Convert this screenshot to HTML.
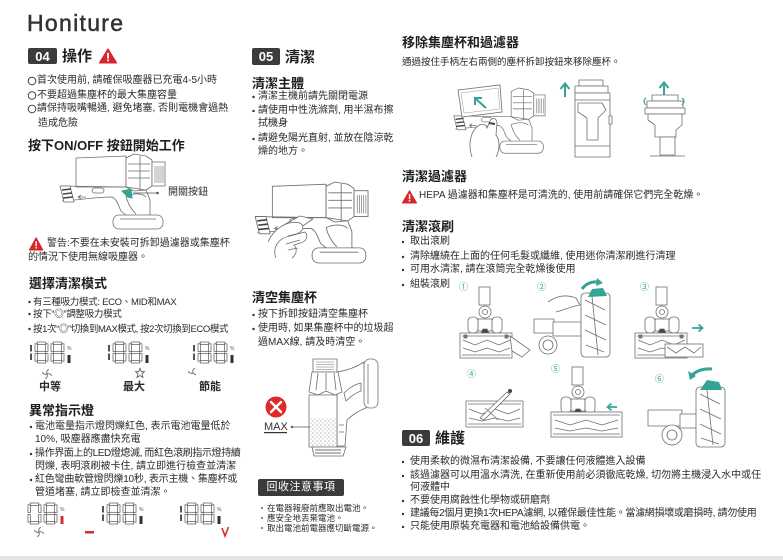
<!DOCTYPE html>
<html><head><meta charset="utf-8">
<style>
body{margin:0;}
#p{position:relative;width:783px;height:560px;overflow:hidden;background:#fff;font-family:"Liberation Sans","Noto Sans CJK TC",sans-serif;color:#2a2a2a;}
.t{position:absolute;white-space:nowrap;line-height:1;}
.s{font-size:10px;}
.m{font-size:9.5px;}
.h{font-size:13px;font-weight:bold;color:#1f1f1f;}
.x{font-size:15px;font-weight:bold;color:#1f1f1f;}
.b{position:absolute;background:#3b3b3b;color:#fff;font-weight:bold;font-size:13px;display:flex;align-items:center;justify-content:center;border-radius:2px;line-height:1;}
.n{font-size:9px;color:#35a396;}
</style></head><body><div id="p">
<svg width="783" height="560" style="position:absolute;left:0;top:0" xmlns="http://www.w3.org/2000/svg">
<defs>
<pattern id="dots" width="4" height="4" patternUnits="userSpaceOnUse"><circle cx="1" cy="1" r="0.55" fill="#666"/><circle cx="3" cy="3" r="0.45" fill="#888"/></pattern>
<g id="seg8" fill="none" stroke="#555" stroke-width="0.7">
 <rect x="2.2" y="0" width="8.6" height="2.4"/>
 <rect x="2.2" y="9.3" width="8.6" height="2.4"/>
 <rect x="2.2" y="18.6" width="8.6" height="2.4"/>
 <rect x="0" y="1.8" width="2.4" height="7.6"/>
 <rect x="10.6" y="1.8" width="2.4" height="7.6"/>
 <rect x="0" y="11.5" width="2.4" height="7.6"/>
 <rect x="10.6" y="11.5" width="2.4" height="7.6"/>
</g>
<g id="seg0" fill="none" stroke="#555" stroke-width="0.7">
 <rect x="2.2" y="0" width="8.6" height="2.4"/>
 <rect x="2.2" y="18.6" width="8.6" height="2.4"/>
 <rect x="0" y="1.8" width="2.4" height="7.6"/>
 <rect x="10.6" y="1.8" width="2.4" height="7.6"/>
 <rect x="0" y="11.5" width="2.4" height="7.6"/>
 <rect x="10.6" y="11.5" width="2.4" height="7.6"/>
</g>
<g id="seg1" fill="#555"><rect x="0" y="3" width="2" height="6.5"/><rect x="0" y="11.5" width="2" height="6.5"/></g>
<g id="disp"><use href="#seg1"/><use href="#seg8" x="5"/><use href="#seg8" x="21"/></g>
<g id="fan" fill="none" stroke="#555" stroke-width="0.8"><path d="M0 0 Q-1 -4 2 -4.5"/><path d="M0 0 Q4 -1 4.5 2"/><path d="M0 0 Q1 4 -2 4.5"/><path d="M0 0 Q-4 1 -4.5 -2"/></g>
<g id="vacbody" fill="none" stroke="#6e6e6e" stroke-width="0.8" stroke-linejoin="round">
 <path d="M126 158 L134 154 L146 156 L152 160 L152 186 L146 190 L134 191 L126 187 Z" fill="#fff"/>
 <path d="M128 164 L150 164 M128 171 L150 171 M128 178 L150 178 M140 156 L140 190"/>
 <rect x="152" y="162" width="13" height="24" fill="#fff"/>
 <path d="M155 166 V183 M157 166 V183 M159 166 V183 M161 166 V183 M163 166 V183" stroke-width="0.6"/>
 <path d="M60 186 L126 187 L146 190 L150 200 L150 215"/>
 <path d="M62 201 C80 200 96 197 112 197 C117 199 118 205 121 211 L126 215"/>
 <path d="M60 186 L70 186 L74 202 L64 202 Z" fill="#fff"/>
 <path d="M62 190 L71 189 M63 194 L72 193 M63 198 L73 197" stroke="#444" stroke-width="1.6"/>
 <rect x="92" y="188" width="12" height="5" rx="2.5"/>
 <path d="M78 197 L86 197 M78 197 L81 195 M78 197 L81 199"/>
 <path d="M126 196 C128 205 132 210 136 214"/>
 <path d="M126 196 C134 193 142 193 146 197"/>
 <rect x="113" y="215" width="50" height="14" rx="6" fill="#fff"/>
 <path d="M120 219 L156 219"/>
</g>
<g id="fbtop" fill="#fff" stroke="#6e6e6e" stroke-width="0.8">
 <rect x="21" y="1" width="11" height="18"/>
 <rect x="20" y="33" width="14" height="12"/>
 <circle cx="27" cy="26" r="6"/>
 <circle cx="27" cy="26" r="2.5"/>
 <rect x="10" y="31" width="10" height="16" rx="4"/>
 <rect x="34" y="31" width="10" height="16" rx="4"/>
 <path d="M23 47 L25 43 L29 43 L31 47 Z" fill="#444"/>
</g>
<g id="fbhouse" fill="#fff" stroke="#6e6e6e" stroke-width="0.8">
 <rect x="0" y="47" width="52" height="25"/>
 <path d="M2 50 L50 50 M2 69 L50 69" fill="none"/>
 <path d="M3 54 L15 59 L27 54 L39 59 L50 54 M3 62 L15 66 L27 62 L39 66 L50 62" fill="none"/>
 <rect x="4" y="49" width="3" height="3" fill="#777"/>
 <rect x="45" y="49" width="3" height="3" fill="#777"/>
</g>
<g id="warn"><path d="M7.5 0.8 L14.6 13 L0.4 13 Z" fill="#d7262d" stroke="#d7262d" stroke-linejoin="round"/><rect x="6.8" y="4.2" width="1.5" height="5" fill="#fff"/><rect x="6.8" y="10" width="1.5" height="1.5" fill="#fff"/></g>
</defs>

<rect x="0" y="556" width="783" height="4" fill="#e3e3e3"/>

<use href="#warn" transform="translate(99,48) scale(1.2,1.15)"/>
<g fill="none" stroke="#333" stroke-width="0.9">
<circle cx="32" cy="81" r="3.8"/><circle cx="32" cy="95.5" r="3.8"/><circle cx="32" cy="109" r="3.8"/>
</g>

<path d="M76 158 L126 156 L126 187 L76 187 Z" fill="#fff" stroke="#6e6e6e" stroke-width="0.8"/>
<use href="#vacbody"/>
<path d="M122 191 L131 189 L132 198 L128 197 Z" fill="#35a396" stroke="#35a396"/>
<path d="M133 193 L157 193" stroke="#555" stroke-width="0.8"/><circle cx="157.5" cy="193" r="1.3" fill="#555"/>

<use href="#warn" transform="translate(29,237) scale(0.95,1)"/>

<g fill="#333"><circle cx="29.5" cy="302" r="1.2"/><circle cx="29.5" cy="314" r="1.2"/><circle cx="29.5" cy="329" r="1.2"/></g>

<use href="#disp" x="30" y="342"/><use href="#disp" x="108" y="342"/><use href="#disp" x="193" y="342"/>
<g fill="#333"><rect x="67.5" y="355" width="3" height="8"/><rect x="145.5" y="355" width="3" height="8"/><rect x="230.5" y="355" width="3" height="8"/></g>
<g font-size="5" fill="#555" font-family="Liberation Sans, sans-serif"><text x="67" y="350">%</text><text x="145" y="350">%</text><text x="230" y="350">%</text></g>
<use href="#fan" x="47" y="374"/>
<g transform="translate(140,373)" fill="none" stroke="#555" stroke-width="0.8"><path d="M0 -4.5 L1.3 -1.3 L4.5 -1.3 L2 1 L3 4.5 L0 2.5 L-3 4.5 L-2 1 L-4.5 -1.3 L-1.3 -1.3 Z"/></g>
<g transform="translate(193,373)" fill="none" stroke="#555" stroke-width="0.8"><path d="M0 0 Q-1 -4 2 -4.5"/><path d="M0 0 Q-4 1 -4.5 -2"/><path d="M0 0 L3 2"/></g>

<g fill="#333"><circle cx="31" cy="427" r="1.2"/><circle cx="31" cy="454" r="1.2"/><circle cx="31" cy="480" r="1.2"/></g>
<use href="#seg0" x="28" y="503"/><use href="#seg8" x="44" y="503"/>
<use href="#disp" x="102" y="503"/><use href="#disp" x="180" y="503"/>
<rect x="60.5" y="516" width="3" height="8" fill="#d32f2f"/>
<g fill="#333"><rect x="139.5" y="516" width="3" height="8"/><rect x="217.5" y="516" width="3" height="8"/></g>
<g font-size="5" fill="#555" font-family="Liberation Sans, sans-serif"><text x="60" y="511">%</text><text x="139" y="511">%</text><text x="217" y="511">%</text></g>
<use href="#fan" x="39" y="532"/>
<rect x="85" y="531" width="9" height="2.5" fill="#d32f2f"/>
<path d="M222 528 L225 536 L228.5 527" fill="none" stroke="#d32f2f" stroke-width="1.6"/>

<g fill="#333"><circle cx="253.5" cy="97" r="1.2"/><circle cx="253.5" cy="111" r="1.2"/><circle cx="253.5" cy="139" r="1.2"/><circle cx="253.5" cy="315" r="1.2"/><circle cx="253.5" cy="329" r="1.2"/>
<circle cx="262" cy="508" r="0.9"/><circle cx="262" cy="518" r="0.9"/><circle cx="262" cy="528" r="0.9"/></g>

<g transform="translate(253,182) scale(1.075,1.08) translate(-58,-154)">
<path d="M76 158 L126 156 L126 187 L76 187 Z" fill="#fff" stroke="#6e6e6e" stroke-width="0.8"/>
<use href="#vacbody"/>
</g>
<g fill="#fff" stroke="#6e6e6e" stroke-width="0.8" stroke-linejoin="round">
<path d="M282 226 L300 216 L313 219 L298 229 Z"/>
<path d="M268 242 C274 228 288 220 300 223 C305 226 303 232 296 234 L288 236"/>
<path d="M276 258 C272 248 278 238 290 236 L305 232 C309 236 306 242 300 243 L294 245 C298 250 296 255 292 258"/>
<path d="M286 244 L300 240 M288 250 L298 248"/>
</g>

<g fill="#fff" stroke="#6e6e6e" stroke-width="0.8" stroke-linejoin="round">
<path d="M337 372 C350 370 358 366 364 362 L366 408 C360 410 352 415 347 420 L345 446 L337 446 Z"/>
<rect x="364" y="359" width="14" height="49" rx="6"/>
<path d="M368 364 V404" fill="none"/>
<path d="M344 393 C350 387 356 384 361 383 L361 391 C355 393 350 397 346 401 Z"/>
<path d="M339 425 L344 425 M339 432 L344 432" fill="none"/>
<rect x="313" y="359" width="24" height="13"/>
<path d="M316 362 H334 M316 364.5 H334 M316 367 H334 M316 369.5 H334" stroke-width="0.5" fill="none"/>
<path d="M312 372 L338 372 L342 392 L335 395 L326 391 L318 395 L309 392 Z"/>
<path d="M318 373 L316 390 M326 373 L326 390 M334 373 L336 390" fill="none"/>
<rect x="309" y="395" width="28" height="52"/>
<rect x="310" y="418" width="26" height="28" fill="url(#dots)" stroke="none"/>
<path d="M312 447 L346 447 L343 456 L314 456 Z"/>
<path d="M315 450 L341 450 M315 453 L341 453" stroke="#444" fill="none"/>
</g>
<path d="M292 427 L310 427" stroke="#555" stroke-width="0.8"/><circle cx="292" cy="427" r="1.2" fill="#555"/>
<circle cx="276" cy="407" r="10.5" fill="#e02b2b"/>
<path d="M271 402 L281 412 M281 402 L271 412" stroke="#fff" stroke-width="2.4" stroke-linecap="round"/>
<rect x="264" y="432" width="23" height="1.2" fill="#333"/>

<g transform="translate(452,88) scale(0.87) translate(-58,-154)"><use href="#vacbody"/></g>
<path d="M458 90 L500 85 L502 112 L462 117 Z" fill="#fff" stroke="#6e6e6e" stroke-width="0.8"/>
<path d="M461 93 L498 88 L500 109 L464 113 Z" fill="none" stroke="#999" stroke-width="0.5"/>
<path d="M486 108 L476 99 M475 105 L475 98 L482 98" fill="none" stroke="#35a396" stroke-width="2"/>
<path d="M472 157 C468 145 470 132 478 126 C482 123 486 124 487 128 L490 121 C492 117 497 118 497 123 L496 135 C500 140 500 150 496 157" fill="#fff" stroke="#6e6e6e" stroke-width="0.8"/>
<path d="M489 123 L495 124" stroke="#444" stroke-width="2"/>

<g fill="#fff" stroke="#6e6e6e" stroke-width="0.8" stroke-linejoin="round">
<rect x="579" y="80" width="24" height="6"/>
<rect x="575" y="86" width="33" height="7"/>
<rect x="575" y="93" width="35" height="64"/>
<path d="M575 100 L610 100 M575 146 L610 146" fill="none"/>
<path d="M578 103 L602 103 L606 110 L598 118 L598 140 L587 140 L587 118 L578 112 Z"/>
<rect x="609" y="116" width="3" height="8"/>
</g>
<path d="M565 97 V84 M560.5 89 L565 83.5 L569.5 89" fill="none" stroke="#35a396" stroke-width="2"/>

<g fill="#fff" stroke="#6e6e6e" stroke-width="0.8" stroke-linejoin="round">
<rect x="652" y="95" width="26" height="6"/>
<rect x="647" y="101" width="36" height="7"/>
<rect x="645" y="108" width="40" height="6"/>
<path d="M648 114 L682 114 L682 125 L676 130 L676 137 L655 137 L655 125 L648 120 Z"/>
<rect x="660" y="137" width="15" height="18"/>
<path d="M650 156 H685" fill="none"/>
</g>
<path d="M664 95 V83 M659.5 88 L664 82.5 L668.5 88" fill="none" stroke="#35a396" stroke-width="2"/>
<path d="M646 98 Q642 101 646 105 M682 98 Q686 101 682 105" fill="none" stroke="#35a396" stroke-width="1.2"/>

<g fill="#333"><circle cx="403" cy="242" r="1.2"/><circle cx="403" cy="257" r="1.2"/><circle cx="403" cy="270" r="1.2"/><circle cx="403" cy="285" r="1.2"/>
<circle cx="403" cy="462" r="1.2"/><circle cx="403" cy="476" r="1.2"/><circle cx="403" cy="501" r="1.2"/><circle cx="403" cy="514" r="1.2"/><circle cx="403" cy="527" r="1.2"/></g>

<use href="#fbtop" x="458" y="286"/><use href="#fbhouse" x="460" y="286"/>
<path d="M510 336 L530 350 L522 357 L512 351 Z" fill="#fff" stroke="#6e6e6e" stroke-width="0.8"/>
<g fill="#fff" stroke="#6e6e6e" stroke-width="0.8" stroke-linejoin="round">
<rect x="534" y="319" width="20" height="14"/>
<circle cx="548" cy="345" r="9"/><circle cx="548" cy="345" r="5"/>
<rect x="553" y="322" width="28" height="14"/>
<rect x="581" y="293" width="29" height="64" rx="4"/>
<path d="M585 300 L605 310 M585 315 L606 325 M585 330 L606 340 M586 345 L604 352 M592 296 L598 355" fill="none"/>
<path d="M548 302 C556 296 566 294 576 298 L580 305 C572 306 564 310 556 312" />
</g>
<path d="M588 297 L592 289 L603 288 L607 296 Z" fill="#35a396"/>
<path d="M582 289 Q588 281 598 282" fill="none" stroke="#35a396" stroke-width="3"/>
<path d="M597 278 L603 283 L596 286 Z" fill="#35a396"/>
<use href="#fbtop" x="635" y="286"/><use href="#fbhouse" x="635" y="286"/>
<g fill="#fff" stroke="#6e6e6e" stroke-width="0.8"><rect x="665" y="344" width="38" height="13"/><path d="M667 347 L676 353 L685 347 L694 353 L701 347" fill="none"/></g>
<path d="M692 328 L702 328 M698.5 324.5 L702.5 328 L698.5 331.5" fill="none" stroke="#35a396" stroke-width="1.8"/>
<g fill="#fff" stroke="#6e6e6e" stroke-width="0.8" stroke-linejoin="round">
<rect x="466" y="401" width="57" height="26"/>
<path d="M468 404 L521 404 M468 424 L521 424" fill="none"/>
<path d="M469 409 L482 414 L495 409 L508 414 L520 409 M469 418 L482 421 L495 418 L508 421 L520 418" fill="none"/>
<path d="M480 418 L507 392 L510 394 L484 420 Z"/>
<path d="M485 408 C490 412 494 416 498 420" fill="none"/>
</g>
<circle cx="510" cy="391" r="2" fill="#444"/>
<use href="#fbtop" x="551" y="366"/>
<g fill="#fff" stroke="#6e6e6e" stroke-width="0.8">
<rect x="551" y="412" width="71" height="25"/>
<path d="M553 415 L620 415 M553 434 L620 434" fill="none"/>
<path d="M555 420 L570 425 L586 420 L602 425 L618 420 M555 428 L570 431 L586 428 L602 431 L618 428" fill="none"/>
</g>
<path d="M617 407 L608 407 M611.5 403.5 L607.5 407 L611.5 410.5" fill="none" stroke="#35a396" stroke-width="1.8"/>
<g fill="#fff" stroke="#6e6e6e" stroke-width="0.8" stroke-linejoin="round">
<rect x="648" y="410" width="34" height="16"/>
<circle cx="672" cy="435" r="10"/><circle cx="672" cy="435" r="5"/>
<rect x="680" y="414" width="17" height="14"/>
<rect x="696" y="387" width="29" height="60" rx="4"/>
<path d="M700 394 L720 404 M700 409 L721 419 M700 424 L721 434 M701 438 L719 444 M707 390 L713 445" fill="none"/>
</g>
<path d="M700 390 L707 380 L719 382 L722 390 Z" fill="#35a396"/>
<path d="M712 369 Q700 368 692 375" fill="none" stroke="#35a396" stroke-width="3"/>
<path d="M688 371 L690 380 L696 376 Z" fill="#35a396"/>

<use href="#warn" x="402" y="190"/>
</svg>

<div class="t" style="left:27px;top:12px;font-size:23px;letter-spacing:1.3px;color:#333;-webkit-text-stroke:0.5px #333;">Honiture</div>
<div class="b" style="left:28px;top:48px;width:29px;height:16px;">04</div>
<div class="t x" style="left:62px;top:49px;">操作</div>
<div class="t s" style="left:37px;top:76.3px;">首次使用前, 請確保吸塵器已充電4-5小時</div>
<div class="t s" style="left:37px;top:90.8px;">不要超過集塵杯的最大集塵容量</div>
<div class="t s" style="left:37px;top:104.3px;">請保持吸嘴暢通, 避免堵塞, 否則電機會過熱</div>
<div class="t s" style="left:38px;top:118.6px;">造成危險</div>
<div class="t h" style="left:28px;top:139px;">按下ON/OFF 按鈕開始工作</div>
<div class="t s" style="left:168px;top:188.3px;">開關按鈕</div>
<div class="t s" style="left:47px;top:239.3px;">警告:不要在未安裝可拆卸過濾器或集塵杯</div>
<div class="t s" style="left:28px;top:253.3px;">的情況下使用無線吸塵器。</div>
<div class="t h" style="left:29px;top:277px;">選擇清潔模式</div>
<div class="t m" style="left:33px;top:297.5px;letter-spacing:-0.3px;">有三種吸力模式: ECO、MID和MAX</div>
<div class="t m" style="left:33px;top:309.5px;letter-spacing:-0.3px;">按下“◎”調整吸力模式</div>
<div class="t m" style="left:33px;top:324.5px;letter-spacing:-0.4px;">按1次“◎”切換到MAX模式, 按2次切換到ECO模式</div>
<div class="t" style="left:39px;top:381.8px;font-size:11px;font-weight:bold;">中等</div>
<div class="t" style="left:123px;top:381.8px;font-size:11px;font-weight:bold;">最大</div>
<div class="t" style="left:199px;top:381.8px;font-size:11px;font-weight:bold;">節能</div>
<div class="t h" style="left:29px;top:404px;">異常指示燈</div>
<div class="t s" style="left:35px;top:422.3px;">電池電量指示燈閃爍紅色, 表示電池電量低於</div>
<div class="t s" style="left:35px;top:435.3px;">10%, 吸塵器應盡快充電</div>
<div class="t s" style="left:35px;top:449.3px;letter-spacing:-0.4px;">操作界面上的LED燈熄滅, 而紅色滾刷指示燈持續</div>
<div class="t s" style="left:35px;top:462.3px;">閃爍, 表明滾刷被卡住, 請立即進行檢查並清潔</div>
<div class="t s" style="left:35px;top:475.3px;letter-spacing:-0.2px;">紅色彎曲軟管燈閃爍10秒, 表示主機、集塵杯或</div>
<div class="t s" style="left:35px;top:488.3px;">管道堵塞, 請立即檢查並清潔。</div>

<div class="b" style="left:252px;top:48px;width:28px;height:17px;">05</div>
<div class="t x" style="left:285px;top:50px;">清潔</div>
<div class="t h" style="left:252px;top:77px;">清潔主體</div>
<div class="t s" style="left:258px;top:92.3px;">清潔主機前請先關閉電源</div>
<div class="t s" style="left:258px;top:106.3px;">請使用中性洗滌劑, 用半濕布擦</div>
<div class="t s" style="left:258px;top:119.3px;">拭機身</div>
<div class="t s" style="left:258px;top:134.3px;">請避免陽光直射, 並放在陰涼乾</div>
<div class="t s" style="left:258px;top:147.3px;">燥的地方。</div>
<div class="t h" style="left:252px;top:291px;">清空集塵杯</div>
<div class="t s" style="left:258px;top:310.3px;">按下拆卸按鈕清空集塵杯</div>
<div class="t s" style="left:258px;top:324.3px;">使用時, 如果集塵杯中的垃圾超</div>
<div class="t s" style="left:258px;top:338.3px;">過MAX線, 請及時清空。</div>
<div class="t" style="left:264px;top:421.8px;font-size:11px;color:#333;">MAX</div>
<div class="b" style="left:258px;top:479px;width:86px;height:17px;font-size:11px;font-weight:normal;letter-spacing:0.5px;">回收注意事項</div>
<div class="t" style="left:267px;top:504px;font-size:8.5px;">在電器報廢前應取出電池。</div>
<div class="t" style="left:267px;top:514px;font-size:8.5px;">應安全地丟棄電池。</div>
<div class="t" style="left:267px;top:524px;font-size:8.5px;">取出電池前電器應切斷電源。</div>

<div class="t h" style="left:402px;top:36px;">移除集塵杯和過濾器</div>
<div class="t m" style="left:402px;top:57.5px;">通過按住手柄左右兩側的塵杯拆卸按鈕來移除塵杯。</div>
<div class="t h" style="left:402px;top:170px;">清潔過濾器</div>
<div class="t s" style="left:419px;top:191.3px;">HEPA 過濾器和集塵杯是可清洗的, 使用前請確保它們完全乾燥。</div>
<div class="t h" style="left:402px;top:220px;">清潔滾刷</div>
<div class="t s" style="left:410px;top:237.3px;">取出滾刷</div>
<div class="t s" style="left:410px;top:252.3px;">清除纏繞在上面的任何毛髮或纖維, 使用迷你清潔刷進行清理</div>
<div class="t s" style="left:410px;top:265.3px;">可用水清潔, 請在滾筒完全乾燥後使用</div>
<div class="t s" style="left:410px;top:280.3px;">組裝滾刷</div>
<div class="t n" style="left:459px;top:283px;">①</div>
<div class="t n" style="left:537px;top:283px;">②</div>
<div class="t n" style="left:640px;top:283px;">③</div>
<div class="t n" style="left:467px;top:370px;">④</div>
<div class="t n" style="left:551px;top:365px;">⑤</div>
<div class="t n" style="left:655px;top:375px;">⑥</div>
<div class="b" style="left:402px;top:430px;width:28px;height:16px;">06</div>
<div class="t x" style="left:435px;top:431px;">維護</div>
<div class="t s" style="left:410px;top:457.3px;">使用柔軟的微濕布清潔設備, 不要讓任何液體進入設備</div>
<div class="t s" style="left:410px;top:471.3px;">該過濾器可以用溫水清洗, 在重新使用前必須徹底乾燥, 切勿將主機浸入水中或任</div>
<div class="t s" style="left:410px;top:483.3px;">何液體中</div>
<div class="t s" style="left:410px;top:496.3px;">不要使用腐蝕性化學物或研磨劑</div>
<div class="t s" style="left:410px;top:509.3px;letter-spacing:-0.3px;">建議每2個月更換1次HEPA濾網, 以確保最佳性能。當濾網損壞或磨損時, 請勿使用</div>
<div class="t s" style="left:410px;top:522.3px;">只能使用原裝充電器和電池給設備供電。</div>
</div></body></html>
